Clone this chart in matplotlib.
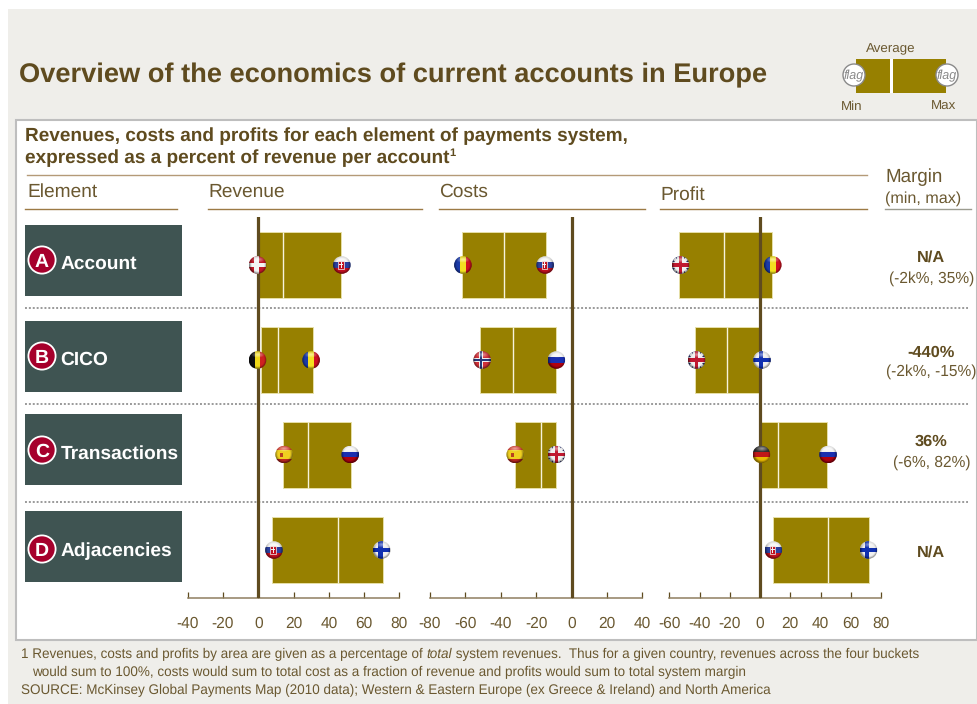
import numpy as np
import matplotlib
matplotlib.use('Agg')
import matplotlib.pyplot as plt
from matplotlib.patches import Rectangle, Circle, Polygon

plt.rcParams['font.family'] = ['Liberation Sans', 'DejaVu Sans']
plt.rcParams['text.hinting'] = 'no_hinting'
plt.rcParams['text.hinting_factor'] = 8

W, H = 977, 704
BROWN = '#5F4B1F'
TEXT = '#6A5830'
OLIVE = '#978000'
SLATE = '#3F5452'

elements = ['Account', 'CICO', 'Transactions', 'Adjacencies']
letters = ['A', 'B', 'C', 'D']

# min, average, max per element (percent of revenue per account)
rev_min = [0, 1.3, 14.2, 7.7]
rev_avg = [14, 11, 28, 45]
rev_max = [47, 31, 52.4, 70.7]
cost_min = [-62, -51.6, -31.8, np.nan]
cost_avg = [-38, -33.3, -17.3, np.nan]
cost_max = [-14.7, -8.5, -8.5, np.nan]
prof_min = [-53.5, -42.7, 0, 8.4]
prof_avg = [-24, -22, 12, 45]
prof_max = [8, -0.4, 44, 72]

# where the flags sit, and which country they show
rev_flag_lo = [-0.4, -0.4, 14.7, 8.9]
rev_flag_hi = [47.4, 30, 52.2, 70]
cost_flag_lo = [-61.4, -50.5, -31.8, np.nan]
cost_flag_hi = [-14.9, -8.6, -8.6, np.nan]
prof_flag_lo = [-52.6, -42, 0.9, 8.8]
prof_flag_hi = [8.4, 1.3, 45, 71.7]
rev_lo_country = ['dk', 'be', 'es', 'sk']
rev_hi_country = ['sk', 'ro', 'ru', 'fi']
cost_lo_country = ['ro', 'no', 'es', None]
cost_hi_country = ['sk', 'ru', 'uk', None]
prof_lo_country = ['uk', 'uk', 'de', 'sk']
prof_hi_country = ['ro', 'fi', 'ru', 'fi']

margin_main = ['N/A', '-440%', '36%', 'N/A']
margin_range = ['(-2k%, 35%)', '(-2k%, -15%)', '(-6%, 82%)', None]

rev_ticks = [-40, -20, 0, 20, 40, 60, 80]
cost_ticks = [-80, -60, -40, -20, 0, 20, 40]
prof_ticks = [-60, -40, -20, 0, 20, 40, 60, 80]

# layout, in pixels of the picture
row_y = [265, 360, 454.5, 550]
box_top = [225, 321, 414, 511]
badge_y = [260, 356, 450, 549]
label_y = [262, 358, 451.5, 549]
sep_y = [307.7, 403.7, 502]
margin_y = [(256, 277), (351, 370), (440.5, 461), (551, None)]

fig = plt.figure(figsize=(W / 100, H / 100), dpi=100, facecolor='white')


def full_axes(z):
    ax = fig.add_axes([0, 0, 1, 1], zorder=z)
    ax.set_xlim(0, W)
    ax.set_ylim(H, 0)
    ax.axis('off')
    ax.patch.set_visible(False)
    return ax


bg = full_axes(0)
ov = full_axes(5)


def txt(x, y, s, size, color=TEXT, weight='normal', ha='left', style='normal', va='center_baseline'):
    return ov.text(x, y, s, fontsize=size, color=color, fontweight=weight, ha=ha,
                   va=va, fontstyle=style)


def runs(x, y, parts, size):
    # text pieces one after the other, for the italic word in the footnote
    rend = fig.canvas.get_renderer()
    for s, st in parts:
        t = txt(x, y, s, size, style=st, va='baseline')
        x = ov.transData.inverted().transform(t.get_window_extent(rend).corners()[2])[0]


def draw_flag(cx, cy, code, r=8.8):
    clip = Circle((cx, cy), r, transform=ov.transData)
    x0, y0, d = cx - r, cy - r, 2 * r
    shapes = []
    if code in ('sk', 'ru', 'de', 'es'):
        cols = {'sk': ['#F4F4F4', '#2A3F9E', '#C01020'], 'ru': ['#F4F4F4', '#1A2FB0', '#B00010'],
                'de': ['#303030', '#C01818', '#E8B800'], 'es': ['#D84030', '#F0D020', '#C02820']}[code]
        fr = [0.25, 0.5, 0.25] if code == 'es' else [1 / 3, 1 / 3, 1 / 3]
        yy = y0
        for c, f in zip(cols, fr):
            shapes.append(Rectangle((x0, yy), d, d * f, color=c, lw=0))
            yy += d * f
        if code == 'sk':
            shapes.append(Rectangle((cx - 3.6, cy - 4), 5.6, 7.5, facecolor='#C01020', edgecolor='#F4F4F4', lw=0.5))
            shapes.append(Rectangle((cx - 1.3, cy - 3), 1, 5.5, color='#F4F4F4', lw=0))
            shapes.append(Rectangle((cx - 2.8, cy - 1.2), 4, 1, color='#F4F4F4', lw=0))
        if code == 'es':
            shapes.append(Rectangle((cx - 4.5, cy - 2), 3, 4, color='#B84020', lw=0))
    elif code in ('ro', 'be'):
        cols = {'ro': ['#1A3AA8', '#F4E020', '#D01020'], 'be': ['#101010', '#F0D818', '#D02020']}[code]
        for i, c in enumerate(cols):
            shapes.append(Rectangle((x0 + i * d / 3, y0), d / 3, d, color=c, lw=0))
    elif code in ('dk', 'fi', 'no'):
        base, outer, inner = {'dk': ('#C01828', '#F4F4F4', None), 'fi': ('#F0F0F0', '#1030B0', None),
                              'no': ('#D03038', '#F0F0F0', '#283878')}[code]
        shapes.append(Rectangle((x0, y0), d, d, color=base, lw=0))
        shapes.append(Rectangle((x0, cy - 2.2), d, 4.4, color=outer, lw=0))
        shapes.append(Rectangle((cx - 3.4, y0), 4.4, d, color=outer, lw=0))
        if inner:
            shapes.append(Rectangle((x0, cy - 1.1), d, 2.2, color=inner, lw=0))
            shapes.append(Rectangle((cx - 2.3, y0), 2.2, d, color=inner, lw=0))
    elif code == 'uk':
        shapes.append(Rectangle((x0, y0), d, d, color='#28306E', lw=0))
        for a, b in (((x0, y0), (x0 + d, y0 + d)), ((x0, y0 + d), (x0 + d, y0))):
            dy = 2.4
            shapes.append(Polygon([(a[0], a[1] - dy), (b[0], b[1] - dy), (b[0], b[1] + dy), (a[0], a[1] + dy)],
                                  color='#F0F0F0', lw=0))
        shapes.append(Rectangle((x0, cy - 3.2), d, 6.4, color='#F0F0F0', lw=0))
        shapes.append(Rectangle((cx - 3.2, y0), 6.4, d, color='#F0F0F0', lw=0))
        shapes.append(Rectangle((x0, cy - 1.8), d, 3.6, color='#C01830', lw=0))
        shapes.append(Rectangle((cx - 1.8, y0), 3.6, d, color='#C01830', lw=0))
    for s in shapes:
        s.set_zorder(6)
        ov.add_patch(s)
        s.set_clip_path(clip)
    # sphere shading: dark rim and a soft highlight on top
    g = np.linspace(-1, 1, 36)
    xx, yy = np.meshgrid(g, g)
    rr = np.hypot(xx, yy)
    shade = np.zeros((36, 36, 4))
    dark = np.clip((rr - 0.72) / 0.28, 0, 1) * 0.5 * np.clip((yy + 1.0) / 1.0, 0.25, 1)
    light = np.clip(1 - np.hypot(xx / 0.8, (yy + 0.62) / 0.38), 0, 1) * 0.55
    shade[..., :3] = (light / (light + dark + 1e-6))[..., None]
    shade[..., 3] = np.clip(dark + light, 0, 1)
    im = ov.imshow(shade, extent=[x0, x0 + d, y0 + d, y0], aspect='auto', zorder=7,
                   interpolation='bilinear')
    im.set_clip_path(clip)


def panel(x0, x1, xlim, ticks, lo, avg, hi):
    top, bottom = 217, 598
    ax = fig.add_axes([x0 / W, 1 - bottom / H, (x1 - x0) / W, (bottom - top) / H], zorder=2)
    ax.patch.set_visible(False)
    ax.set_xlim(*xlim)
    ax.set_ylim(bottom, top)
    for i in range(len(row_y)):
        if np.isnan(avg[i]):
            continue
        ax.barh(row_y[i], avg[i] - lo[i], left=lo[i], height=66, color=OLIVE,
                edgecolor='#E6DFA8', linewidth=0.7, zorder=2)
        ax.barh(row_y[i], hi[i] - avg[i], left=avg[i], height=66, color=OLIVE,
                edgecolor='#E6DFA8', linewidth=0.7, zorder=2)
        ax.plot([avg[i], avg[i]], [row_y[i] - 33, row_y[i] + 33], color='#F6F3DC', lw=1.0, zorder=3,
                solid_capstyle='butt')
    ax.axvline(0, color=BROWN, lw=2.3, zorder=4)
    for s in ('left', 'right', 'top'):
        ax.spines[s].set_visible(False)
    ax.spines['bottom'].set_color('#8F7F60')
    ax.spines['bottom'].set_linewidth(1.1)
    ax.set_yticks([])
    ax.set_xticks(ticks)
    ax.set_xticklabels([str(t) for t in ticks])
    ax.tick_params(axis='x', direction='in', length=4, width=0.9, color=BROWN, labelcolor=TEXT,
                   labelsize=11.2, pad=13.5)
    return ax


ax_rev = panel(187.7, 399.3, (-40, 80), rev_ticks, rev_min, rev_avg, rev_max)
ax_cost = panel(430, 642.3, (-80, 40), cost_ticks, cost_min, cost_avg, cost_max)
ax_prof = panel(669.3, 881, (-60, 80), prof_ticks, prof_min, prof_avg, prof_max)

for ax, lo, hi, lc, hc in ((ax_rev, rev_flag_lo, rev_flag_hi, rev_lo_country, rev_hi_country),
                           (ax_cost, cost_flag_lo, cost_flag_hi, cost_lo_country, cost_hi_country),
                           (ax_prof, prof_flag_lo, prof_flag_hi, prof_lo_country, prof_hi_country)):
    for i in range(len(row_y)):
        if lc[i] is None:
            continue
        for val, code in ((lo[i], lc[i]), (hi[i], hc[i])):
            px = ax.transData.transform((val, row_y[i]))
            draw_flag(px[0], H - px[1], code)

# backgrounds
bg.add_patch(Rectangle((8, 9), W - 8, H - 9, color='#EFEEEA', lw=0))
bg.add_patch(Rectangle((16, 119.5), W - 16, 520.5, facecolor='white', edgecolor='#BEBEBE', lw=1.5))

# title and legend
txt(19, 73, 'Overview of the economics of current accounts in Europe', 19.64, color=BROWN, weight='bold')
bg.add_patch(Rectangle((856, 59), 90, 34, color=OLIVE, lw=0))
bg.add_patch(Rectangle((889.5, 59), 3, 34, color='white', lw=0))
for cx in (854, 947):
    ov.add_patch(Circle((cx, 75), 11, facecolor='white', edgecolor='#8A8A8A', lw=1.0, zorder=6))
    txt(cx, 75, 'flag', 9, color='#8A8A8A', ha='center', style='italic').set_zorder(8)
txt(891, 48, 'Average', 9.6, ha='center')
txt(852, 105, 'Min', 9.6, ha='center')
txt(944, 105, 'Max', 9.6, ha='center')

# subtitle and column heads
txt(25, 134, 'Revenues, costs and profits for each element of payments system,', 13.7, color=BROWN, weight='bold')
txt(25, 156, 'expressed as a percent of revenue per account', 13.7, color=BROWN, weight='bold')
txt(449.5, 152, '1', 8, color=BROWN, weight='bold')
bg.plot([27, 867], [174.5, 174.5], color='#B49A78', lw=1.0)
for x, y, s, x0, x1 in ((27, 190, 'Element', 25, 177), (208, 190, 'Revenue', 208, 422),
                        (439, 190, 'Costs', 439, 645), (660, 193, 'Profit', 660, 867)):
    txt(x, y, s, 13.8)
    bg.plot([x0, x1], [208.5, 208.5], color='#9C7A45', lw=1.0)
txt(885, 175, 'Margin', 13.5)
txt(885, 197, '(min, max)', 11.6)
bg.plot([885, 971], [208.5, 208.5], color='#9C9C90', lw=1.0)

# element boxes
for i, name in enumerate(elements):
    bg.add_patch(Rectangle((25, box_top[i]), 157, 71, color=SLATE, lw=0))
    ov.add_patch(Circle((42, badge_y[i]), 13.6, facecolor='#A6002C', edgecolor='white', lw=1.3, zorder=4))
    txt(42, badge_y[i], letters[i], 14, color='white', weight='bold', ha='center').set_zorder(5)
    txt(60.5, label_y[i], name, 13.8, color='white', weight='bold')

for y in sep_y:
    bg.plot([25, 968], [y, y], color='#9A9A9A', lw=1.4, linestyle=(0, (1, 1)))

# margin column
for i, (m, rng) in enumerate(zip(margin_main, margin_range)):
    y1, y2 = margin_y[i]
    txt(931, y1, m, 11.8, color=BROWN, weight='bold', ha='center')
    if rng:
        txt(931.5, y2, rng, 11.2, ha='center')

# footnotes
runs(21, 658, [('1 Revenues, costs and profits by area are given as a percentage of ', 'normal'),
               ('total', 'italic'),
               (' system revenues.  Thus for a given country, revenues across the four buckets', 'normal')], 9.73)
txt(32, 671, 'would sum to 100%, costs would sum to total cost as a fraction of revenue and profits would sum to total system margin', 9.73)
txt(21, 689, 'SOURCE: McKinsey Global Payments Map (2010 data); Western & Eastern Europe (ex Greece & Ireland) and North America', 9.73)

fig.savefig('out.png', dpi=100, facecolor='white')
